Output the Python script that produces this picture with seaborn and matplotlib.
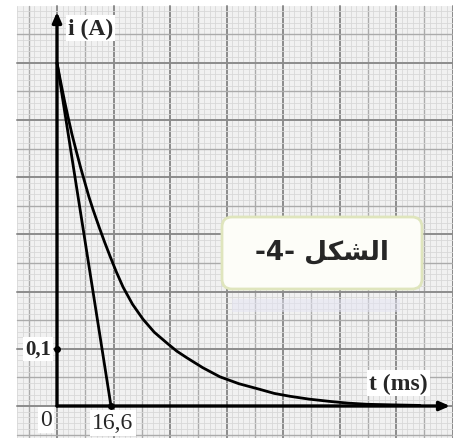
import numpy as np
import pandas as pd
import matplotlib
matplotlib.use("Agg")
import matplotlib.pyplot as plt
from matplotlib.patches import FancyBboxPatch, Rectangle
import seaborn as sns

# Current decay i(t) (t in ms, i in A)
t_ms = [0, 0.8, 1.5, 2.4, 3.4, 4.6, 6.0, 7.3, 8.6, 9.8, 11.1, 13.0, 14.6,
        16.3, 18.2, 20.3, 23.2, 26.4, 29.9, 33.8, 36.8, 40.0, 44.8, 50.1,
        55.9, 62.4, 66.8, 71.6, 77.5, 83.9, 89.5, 95.3, 103.0, 111.6]
i_A = [0.600, 0.576, 0.556, 0.531, 0.505, 0.475, 0.444, 0.416, 0.390, 0.366,
       0.343, 0.312, 0.287, 0.262, 0.235, 0.208, 0.178, 0.152, 0.129, 0.110,
       0.096, 0.084, 0.067, 0.051, 0.039, 0.029, 0.022, 0.017, 0.012, 0.008,
       0.005, 0.003, 0.002, 0.001]

# Tangent at the origin, reaching the time axis at tau
tangent_t = [0, 16.6]
tangent_i = [0.6, 0.0]

x_tick_labels = ["0", "16,6"]
y_tick_value = 0.1
y_tick_label = "0,1"

sns.set_theme(style="white")
plt.rcParams["font.family"] = ["Liberation Serif", "DejaVu Serif"]

W, H, DPI = 453, 439, 100
fig = plt.figure(figsize=(W / DPI, H / DPI), dpi=DPI)
ax = fig.add_axes([0, 0, 1, 1])
ax.set_axis_off()

# pixel scale of the sheet
PX_T = 3.253      # px per ms
PX_I = 572.0      # px per A
X0, Y0 = 57, 407  # origin in pixels (top-left image coords)


def tx(px):
    return (px - X0) / PX_T


def iy(py):
    return (Y0 - py) / PX_I


ax.set_xlim(tx(0), tx(W))
ax.set_ylim(iy(H), iy(0))

# --- graph paper ---
g_left, g_right = tx(17), tx(W)
g_bottom, g_top = iy(H), iy(7)
ax.add_patch(Rectangle((g_left, g_bottom), g_right - g_left, g_top - g_bottom,
                       facecolor="#f1f1f1", edgecolor="none", zorder=0))

maj_t = 56.5 / PX_T
maj_i = 0.1
for k in range(-10, 80):
    xv = k * maj_t / 10
    if xv < g_left or xv > g_right:
        continue
    if k % 10 == 0:
        c, lw = "#8c8c8c", 1.4
    elif k % 5 == 0:
        c, lw = "#ababab", 1.0
    else:
        c, lw = "#d8d8d8", 0.6
    ax.plot([xv, xv], [g_bottom, g_top], color=c, lw=lw, zorder=1)
for k in range(-10, 80):
    yv = k * maj_i / 10
    if yv < g_bottom or yv > g_top + 1e-9:
        continue
    if k % 10 == 0:
        c, lw = "#8c8c8c", 1.4
    elif k % 5 == 0:
        c, lw = "#ababab", 1.0
    else:
        c, lw = "#d8d8d8", 0.6
    ax.plot([g_left, g_right], [yv, yv], color=c, lw=lw, zorder=1)

# faint band under the caption box
ax.add_patch(Rectangle((tx(232), iy(313)), tx(400) - tx(232), iy(300) - iy(313),
                       facecolor="#e4e4f4", edgecolor="none", alpha=0.5, zorder=1.5))

# --- axes with arrows ---
ax.annotate("", xy=(0, iy(13)), xytext=(0, 0),
            arrowprops=dict(arrowstyle="-|>,head_length=0.5,head_width=0.22",
                            color="black", lw=2.4, shrinkA=0, shrinkB=0),
            zorder=4)
ax.annotate("", xy=(tx(450), 0), xytext=(0, 0),
            arrowprops=dict(arrowstyle="-|>,head_length=0.5,head_width=0.22",
                            color="black", lw=2.4, shrinkA=0, shrinkB=0),
            zorder=4)

# --- curves ---
curve = pd.DataFrame({"t": t_ms, "i": i_A})
tang = pd.DataFrame({"t": tangent_t, "i": tangent_i})
sns.lineplot(data=curve, x="t", y="i", ax=ax, color="black", lw=2.0,
             sort=False, zorder=5)
sns.lineplot(data=tang, x="t", y="i", ax=ax, color="black", lw=2.0,
             sort=False, zorder=5)
for ln in ax.get_lines():
    ln.set_solid_joinstyle("round")
    ln.set_solid_capstyle("round")

ax.plot([0, tangent_t[1]], [y_tick_value, 0], ls="none", marker="o",
        ms=4, color="black", zorder=6)

# --- labels ---
white = dict(facecolor="white", edgecolor="none", pad=1.5)
ax.text(tx(68), iy(29), "i (A)", fontsize=17, fontweight="bold",
        ha="left", va="center", bbox=white, zorder=7)
ax.text(tx(369), iy(384), "t (ms)", fontsize=17, fontweight="bold",
        ha="left", va="center", bbox=white, zorder=7)
ax.text(tx(51), y_tick_value, y_tick_label, fontsize=15, fontweight="bold",
        ha="right", va="center", bbox=white, zorder=7)
ax.text(tx(46), iy(421), x_tick_labels[0], fontsize=17,
        ha="center", va="center", bbox=white, zorder=7)
ax.text(tangent_t[1] + 0.6, iy(424), x_tick_labels[1], fontsize=17,
        ha="center", va="center", bbox=white, zorder=7)

# --- caption box ---
box = FancyBboxPatch((2.22, 4.39 - 2.90), 2.00, 0.72,
                     boxstyle="round,pad=0,rounding_size=0.1",
                     transform=fig.dpi_scale_trans,
                     facecolor="#fdfdf8", edgecolor="#dfe5bd", lw=2.0, zorder=8)
ax.add_artist(box)
caption = "-4- " + "\uFEDE\uFEDC\uFEB8\uFEDF\uFE8D"
ax.text(tx(322), iy(252), caption, fontsize=19, fontweight="bold",
        family=["DejaVu Sans"], ha="center", va="center", zorder=9)

fig.savefig("out.png", dpi=DPI)
